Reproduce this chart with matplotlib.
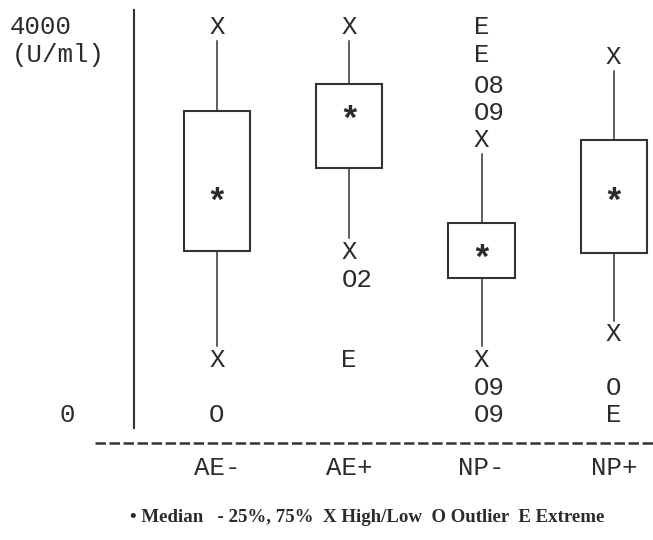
import matplotlib
matplotlib.use("Agg")
import matplotlib.pyplot as plt
from matplotlib.patches import Rectangle
from matplotlib.transforms import offset_copy

# data (U/ml)
categories = ["AE-", "AE+", "NP-", "NP+"]
q1 = [1690, 2550, 1410, 1670]
median = [2270, 3110, 1680, 2270]
q3 = [3130, 3410, 1980, 2840]
high = [4000, 4000, 2830, 3690]
low = [570, 1680, 570, 830]

# outliers (O) and extremes (E), with case numbers where printed
extra_idx = [0, 1, 1, 2, 2, 2, 2, 2, 2, 3, 3]
extra_val = [0, 1390, 570, 4000, 3710, 3390, 3110, 280, 0, 280, 0]
extra_lab = ["O", "O2", "E", "E", "E", "O8", "O9", "O9", "O9", "O", "E"]

legend_text = "\u2022 Median   - 25%, 75%  X High/Low  O Outlier  E Extreme"

mono = "Liberation Mono"
ink = "#2b2b2b"
plt.rcParams["lines.scale_dashes"] = False


def main() -> None:
    fig = plt.figure(figsize=(6.53, 5.40), dpi=100)
    ax = fig.add_axes([0, 0, 1, 1])
    ax.set_xlim(-1.640, 3.296)
    ax.set_ylim(-1288.7, 4278.4)
    ax.axis("off")

    row = 4000 / 14
    gap = 0.5 * row
    w = 0.5
    left = offset_copy(ax.transData, fig=fig, x=-7.8, y=0, units="dots")
    fs = 18.5

    for i in range(len(categories)):
        ax.add_patch(Rectangle((i - w / 2, q1[i]), w, q3[i] - q1[i],
                               fill=False, ec="#333333", lw=1.5))
        ax.plot([i, i], [q3[i], high[i] - gap], color="#333333", lw=1.1)
        ax.plot([i, i], [q1[i], low[i] + gap], color="#333333", lw=1.1)
        ax.text(i, median[i] - 85, "*", ha="center", va="center",
                family=mono, fontsize=25, fontweight="bold", color=ink)
        for v in (high[i], low[i]):
            ax.text(i, v, "X", transform=left, ha="left", va="center",
                    family=mono, fontsize=fs, color=ink)
        ax.text(i, -550, categories[i], ha="center", va="center",
                family=mono, fontsize=fs, color=ink)

    for i, v, s in zip(extra_idx, extra_val, extra_lab):
        ax.text(i, v, s, transform=left, ha="left", va="center",
                family=mono, fontsize=fs, color=ink)

    # axis line and dashed baseline
    ax.plot([-0.627, -0.627], [-134, 4175], color="#333333", lw=1.5)
    ax.plot([-0.922, 3.3], [-289, -289], color="#333333", lw=1.8,
            linestyle=(0, (7.5, 2.6)))

    # y labels
    ax.text(-1.565, 4000, "4000", ha="left", va="center",
            family=mono, fontsize=fs, color=ink)
    ax.text(-1.55, 4000 - row, "(U/ml)", ha="left", va="center",
            family=mono, fontsize=fs, color=ink)
    ax.text(-1.13, 0, "0", ha="center", va="center",
            family=mono, fontsize=fs, color=ink)

    fig.text(0.562, 0.041, legend_text, ha="center", va="center",
             family="Liberation Serif", fontweight="bold", fontsize=13.6,
             color=ink)

    fig.savefig("out.png", dpi=100, facecolor="white")


if __name__ == "__main__":
    main()
